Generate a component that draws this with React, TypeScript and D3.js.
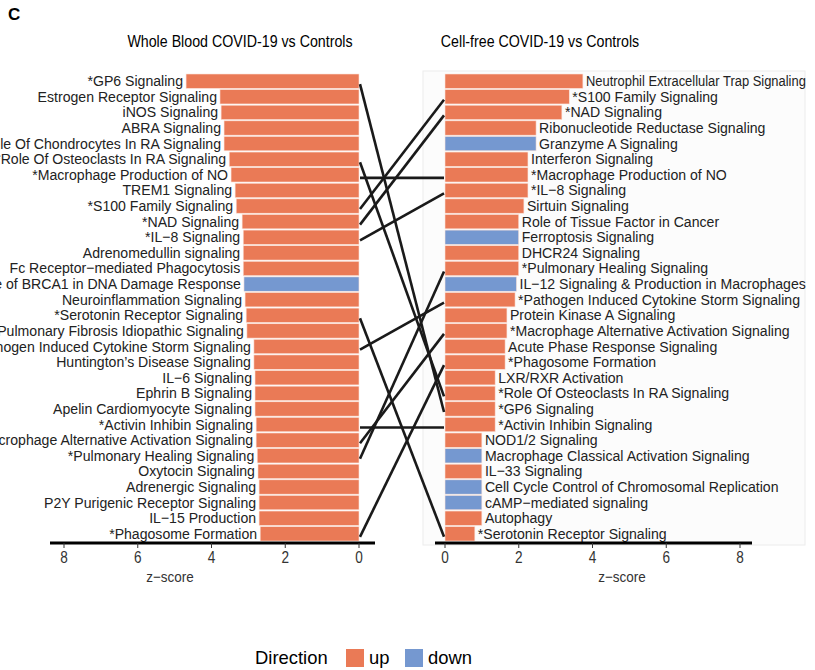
import { useEffect, useRef } from "react";
import * as d3 from "d3";

const leftNames = [
  "*GP6 Signaling", "Estrogen Receptor Signaling", "iNOS Signaling", "ABRA Signaling",
  "Role Of Chondrocytes In RA Signaling", "*Role Of Osteoclasts In RA Signaling",
  "*Macrophage Production of NO", "TREM1 Signaling", "*S100 Family Signaling", "*NAD Signaling",
  "*IL\u22128 Signaling", "Adrenomedullin signaling", "Fc Receptor\u2212mediated Phagocytosis",
  "Role of BRCA1 in DNA Damage Response", "Neuroinflammation Signaling", "*Serotonin Receptor Signaling",
  "Pulmonary Fibrosis Idiopathic Signaling", "*Pathogen Induced Cytokine Storm Signaling",
  "Huntington\u2019s Disease Signaling", "IL\u22126 Signaling", "Ephrin B Signaling",
  "Apelin Cardiomyocyte Signaling", "*Activin Inhibin Signaling",
  "*Macrophage Alternative Activation Signaling", "*Pulmonary Healing Signaling", "Oxytocin Signaling",
  "Adrenergic Signaling", "P2Y Purigenic Receptor Signaling", "IL\u221215 Production", "*Phagosome Formation",
];
const leftValues = [4.69, 3.77, 3.74, 3.66, 3.66, 3.52, 3.47, 3.36, 3.33, 3.17, 3.14, 3.14, 3.14, 3.12, 3.09, 3.06,
  3.04, 2.85, 2.85, 2.82, 2.82, 2.82, 2.79, 2.79, 2.76, 2.74, 2.71, 2.71, 2.71, 2.68];
const leftDir = ["up", "up", "up", "up", "up", "up", "up", "up", "up", "up", "up", "up", "up", "down", "up", "up",
  "up", "up", "up", "up", "up", "up", "up", "up", "up", "up", "up", "up", "up", "up"];

const rightNames = [
  "Neutrophil Extracellular Trap Signaling", "*S100 Family Signaling", "*NAD Signaling",
  "Ribonucleotide Reductase Signaling", "Granzyme A Signaling", "Interferon Signaling",
  "*Macrophage Production of NO", "*IL\u22128 Signaling", "Sirtuin Signaling", "Role of Tissue Factor in Cancer",
  "Ferroptosis Signaling", "DHCR24 Signaling", "*Pulmonary Healing Signaling",
  "IL\u221212 Signaling & Production in Macrophages", "*Pathogen Induced Cytokine Storm Signaling",
  "Protein Kinase A Signaling", "*Macrophage Alternative Activation Signaling", "Acute Phase Response Signaling",
  "*Phagosome Formation", "LXR/RXR Activation", "*Role Of Osteoclasts In RA Signaling", "*GP6 Signaling",
  "*Activin Inhibin Signaling", "NOD1/2 Signaling", "Macrophage Classical Activation Signaling",
  "IL\u221233 Signaling", "Cell Cycle Control of Chromosomal Replication", "cAMP\u2212mediated signaling",
  "Autophagy", "*Serotonin Receptor Signaling",
];
const rightValues = [3.74, 3.37, 3.17, 2.47, 2.47, 2.25, 2.25, 2.25, 2.14, 2.0, 2.0, 2.0, 2.0, 1.94, 1.9, 1.68,
  1.68, 1.63, 1.63, 1.36, 1.36, 1.36, 1.36, 1.0, 1.0, 1.0, 1.0, 1.0, 1.0, 0.81];
const rightDir = ["up", "up", "up", "up", "down", "up", "up", "up", "up", "up", "down", "up", "up", "down", "up",
  "up", "up", "up", "up", "up", "up", "up", "up", "up", "down", "up", "down", "down", "up", "up"];

const ticks = [0, 2, 4, 6, 8];

const App = () => {
  const ref: any = useRef<SVGSVGElement>(null);

  useEffect(() => {
    const svg = d3.select(ref.current);
    svg.selectAll("*").remove();
    const color = d3.scaleOrdinal<string, string>().domain(["up", "down"]).range(["#EA7A56", "#7598D0"]);
    const font = "Liberation Sans, Arial, sans-serif";
    const sx = 0.94;

    const xL = d3.scaleLinear().domain([0, 8]).range([359, 64]);
    const xR = d3.scaleLinear().domain([0, 8]).range([445, 740]);
    const yL = d3.scaleBand().domain(leftNames).range([74, 541]).paddingInner(0.08);
    const yR = d3.scaleBand().domain(rightNames).range([74, 541]).paddingInner(0.08);

    svg.append("text").attr("x", 8).attr("y", 20).attr("font-family", font)
      .attr("font-weight", "bold").attr("font-size", 17).text("C");

    // right panel background
    svg.append("rect").attr("x", 423).attr("y", 71).attr("width", 382).attr("height", 474)
      .attr("fill", "#fcfcfc").attr("stroke", "#ececec");

    const titles = [["Whole Blood COVID-19 vs Controls", 240], ["Cell-free COVID-19 vs Controls", 540]];
    titles.forEach(([t, x]) => {
      svg.append("text").attr("transform", `translate(${x},47) scale(0.89,1)`)
        .attr("text-anchor", "middle").attr("font-family", font).attr("font-size", 16).text(t as string);
    });

    const gl = svg.append("g");
    gl.selectAll("rect").data(leftNames).join("rect")
      .attr("x", (d, i) => xL(leftValues[i]))
      .attr("y", (d) => yL(d)!)
      .attr("width", (d, i) => xL(0) - xL(leftValues[i]))
      .attr("height", yL.bandwidth())
      .attr("fill", (d, i) => color(leftDir[i]))
      .attr("stroke", "#fbe3da").attr("stroke-width", 0.6);
    gl.selectAll("text").data(leftNames).join("text")
      .attr("transform", (d, i) => `translate(${xL(leftValues[i]) - 3},${yL(d)! + yL.bandwidth() / 2 + 5}) scale(${sx},1)`)
      .attr("text-anchor", "end").attr("font-family", font).attr("font-size", 15).attr("fill", "#222")
      .text((d) => d);

    const gr = svg.append("g");
    gr.selectAll("rect").data(rightNames).join("rect")
      .attr("x", xR(0))
      .attr("y", (d) => yR(d)!)
      .attr("width", (d, i) => xR(rightValues[i]) - xR(0))
      .attr("height", yR.bandwidth())
      .attr("fill", (d, i) => color(rightDir[i]))
      .attr("stroke", "#fbe3da").attr("stroke-width", 0.6);
    gr.selectAll("text").data(rightNames).join("text")
      .attr("font-family", font).attr("font-size", 15).attr("fill", "#222")
      .text((d) => d)
      .attr("transform", function (d, i) {
        // squeeze labels that would run past the panel edge
        const x = xR(rightValues[i]) + 3;
        const len = (this as SVGTextElement).getComputedTextLength();
        const s = x + len * sx > 806 ? (806 - x) / len : sx;
        return `translate(${x},${yR(d)! + yR.bandwidth() / 2 + 5}) scale(${s},1)`;
      });

    // links between shared pathways
    const shared = leftNames.filter((n) => rightNames.includes(n));
    svg.append("g").selectAll("line").data(shared).join("line")
      .attr("x1", xL(0) + 1).attr("x2", xR(0) - 1)
      .attr("y1", (d) => yL(d)! + yL.bandwidth() / 2 + 3)
      .attr("y2", (d) => yR(d)! + yR.bandwidth() / 2 + 3)
      .attr("stroke", "#1a1a1a").attr("stroke-width", 2.6);

    // axes
    const axes: [any, number, number, number][] = [[xL, 50, 375, 170], [xR, 435, 752, 622]];
    axes.forEach(([sc, a, b, zx]) => {
      const g = svg.append("g");
      g.append("line").attr("x1", a).attr("x2", b).attr("y1", 543).attr("y2", 543)
        .attr("stroke", "#000").attr("stroke-width", 3);
      g.selectAll("line.t").data(ticks).join("line").attr("class", "t")
        .attr("x1", (d) => sc(d)).attr("x2", (d) => sc(d)).attr("y1", 543).attr("y2", 548)
        .attr("stroke", "#333").attr("stroke-width", 1);
      g.selectAll("text").data(ticks).join("text")
        .attr("transform", (d) => `translate(${sc(d)},563) scale(0.85,1)`)
        .attr("text-anchor", "middle").attr("font-family", font).attr("font-size", 16).attr("fill", "#333")
        .text((d) => d);
      g.append("text").attr("transform", `translate(${zx},582) scale(0.9,1)`)
        .attr("text-anchor", "middle").attr("font-family", font).attr("font-size", 15).attr("fill", "#333")
        .text("z\u2212score");
    });

    // legend
    const lg = svg.append("g");
    lg.append("text").attr("transform", `translate(255,664) scale(0.97,1)`)
      .attr("font-family", font).attr("font-size", 19).text("Direction");
    const items: [string, number][] = [["up", 346], ["down", 405]];
    items.forEach(([k, x]) => {
      lg.append("rect").attr("x", x).attr("y", 649).attr("width", 18).attr("height", 18).attr("fill", color(k));
      lg.append("text").attr("transform", `translate(${x + 23},664) scale(0.97,1)`)
        .attr("font-family", font).attr("font-size", 19).text(k);
    });
  }, []);

  return (
    <svg ref={ref} width={815} height={670}
      style={{ position: "absolute", left: 0, top: 0, background: "#fff" }} />
  );
};

export default App;
